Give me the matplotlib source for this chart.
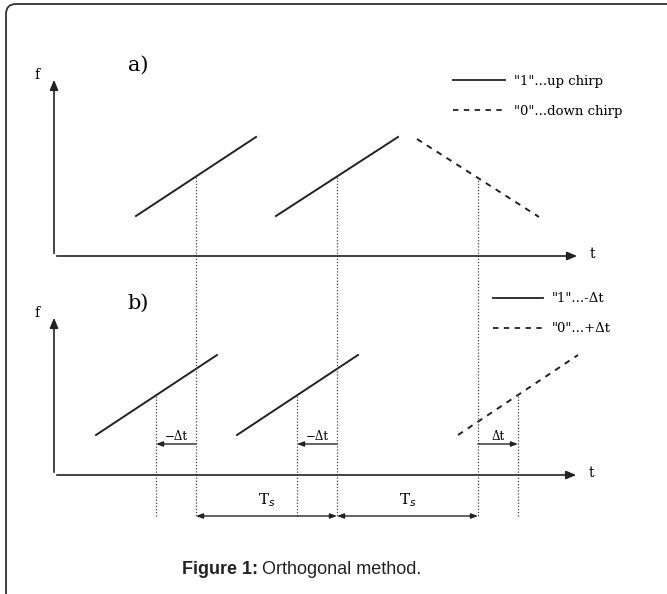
import matplotlib
matplotlib.use("Agg")
import matplotlib.pyplot as plt
from matplotlib.patches import FancyBboxPatch

# %% Data (pixel-like units of the schematic, y grows downward)
# chirp segments: (t0, f0, t1, f1)
up_a = [(136, 216, 256, 137), (276, 216, 398, 137)]
down_a = [(417, 139, 539, 217)]
up_b = [(96, 435, 217, 355), (237, 435, 358, 355)]
shift_b = [(458, 435, 578, 355)]

# vertical dotted markers: (x, y_top, y_bottom)
marks = [(196, 177, 517), (337, 177, 517), (478, 177, 517),
         (156, 396, 516), (297, 396, 516), (518, 396, 516)]

# axes: (x0, y0, x_tip, y_tip)
axes_a = (54, 256, 580, 77)
axes_b = (54, 475, 579, 315)

# delta t arrows: (x_from, x_to, y, label)
dt_arrows = [(196, 156, 444, "\u2212\u0394t"), (337, 297, 444, "\u2212\u0394t"),
             (478, 518, 444, "\u0394t")]
# period arrows
ts_arrows = [(196, 337, 516, "T$_s$"), (337, 478, 516, "T$_s$")]

legend_a = ['"1"...up chirp', '"0"...down chirp']
legend_b = ['"1"...-\u0394t', '"0"...+\u0394t']

# %% Plot
fig = plt.figure(figsize=(6.67, 5.94), dpi=100)
ax = fig.add_axes([0, 0, 1, 1])
ax.set_xlim(0, 667)
ax.set_ylim(594, 0)
ax.axis("off")

lc = "#222222"
serif = "DejaVu Serif"

# frame (only top/left visible)
ax.add_patch(FancyBboxPatch((6, 4), 700, 650, boxstyle="round,pad=0,rounding_size=10",
                            fill=False, ec="#333333", lw=1.3))

for (x0, y0, xt, yt), lab in [(axes_a, "a)"), (axes_b, "b)")]:
    ax.annotate("", xy=(x0, yt), xytext=(x0, y0),
                arrowprops=dict(arrowstyle="-|>,head_length=0.6,head_width=0.25", color=lc, lw=1.2))
    ax.annotate("", xy=(xt, y0), xytext=(x0, y0),
                arrowprops=dict(arrowstyle="-|>,head_length=0.6,head_width=0.25", color=lc, lw=1.2))
    ax.text(x0 - 17, yt - 2, "f", family=serif, fontsize=10, ha="center", va="center")
    ax.text(xt + 12, y0 - 2, "t", family=serif, fontsize=10, ha="center", va="center")
    ax.text(x0 + 84, yt - 12, lab, family=serif, fontsize=15, ha="center", va="center")

for segs, ls in [(up_a, "-"), (down_a, (0, (3, 3))), (up_b, "-"), (shift_b, (0, (3, 3)))]:
    for t0, f0, t1, f1 in segs:
        ax.plot([t0, t1], [f0, f1], color=lc, lw=1.4, ls=ls)

for x, y0, y1 in marks:
    ax.plot([x, x], [y0, y1], color="#444444", lw=0.9, ls=(0, (1, 1.5)))

for x0, x1, y, lab in dt_arrows:
    ax.annotate("", xy=(x1, y), xytext=(x0, y),
                arrowprops=dict(arrowstyle="-|>,head_length=0.4,head_width=0.15",
                                color=lc, lw=1.0, shrinkA=0, shrinkB=0))
    ax.text((x0 + x1) / 2, y - 8, lab, family=serif, fontsize=8.5, ha="center", va="center")

for x0, x1, y, lab in ts_arrows:
    ax.annotate("", xy=(x1, y), xytext=(x0, y),
                arrowprops=dict(arrowstyle="<|-|>,head_length=0.4,head_width=0.15",
                                color=lc, lw=1.0, shrinkA=0, shrinkB=0))
    ax.text((x0 + x1) / 2, y - 16, lab, family=serif, fontsize=11, ha="center", va="center")

for (ly, labs) in [((80, 110), legend_a), ((298, 328), legend_b)]:
    lx0 = 453 if labs is legend_a else 493
    lx1 = 505 if labs is legend_a else 543
    for y, txt, ls in zip(ly, labs, ["-", (0, (3, 3))]):
        ax.plot([lx0, lx1], [y, y], color=lc, lw=1.3, ls=ls)
        ax.text(lx1 + 9, y + 1, txt, family=serif, fontsize=9.5, ha="left", va="center")

ax.text(258, 570, "Figure 1:", fontsize=13, fontweight="bold", color="#222222",
        ha="right", va="center", family="Liberation Sans")
ax.text(262, 570, "Orthogonal method.", fontsize=13, color="#222222",
        ha="left", va="center", family="Liberation Sans")

fig.savefig("out.png", dpi=100)
